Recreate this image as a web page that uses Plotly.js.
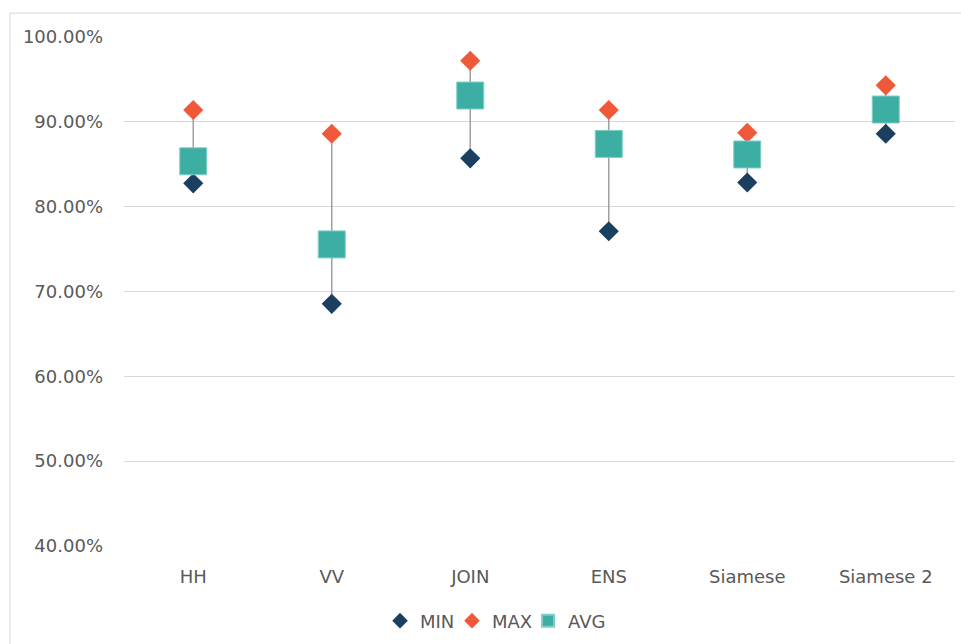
<!DOCTYPE html>
<html>
<head>
<meta charset="utf-8">
<script src="https://cdn.plot.ly/plotly-3.0.1.min.js"></script>
<style>html,body{margin:0;padding:0;background:#fff;}#chart{width:961px;height:644px;}</style>
</head>
<body>
<div id="chart"></div>
<script>
const categories = ["HH", "VV", "JOIN", "ENS", "Siamese", "Siamese 2"];
const minValues = [0.8275, 0.6855, 0.8570, 0.7710, 0.8285, 0.8860];
const maxValues = [0.9140, 0.8860, 0.9720, 0.9140, 0.8870, 0.9430];
const avgValues = [0.8535, 0.7555, 0.9310, 0.8740, 0.8615, 0.9145];
const tickValues = [0.4, 0.5, 0.6, 0.7, 0.8, 0.9, 1.0];

const lineX = [], lineY = [];
categories.forEach((c, i) => { lineX.push(c, c, null); lineY.push(minValues[i], maxValues[i], null); });

const font = {family: "DejaVu Sans, sans-serif", size: 18, color: "#595959"};

const traces = [
  {x: lineX, y: lineY, type: "scatter", mode: "lines", line: {color: "#a0a0a0", width: 1.5}, showlegend: false, hoverinfo: "skip"},
  {x: categories, y: minValues, name: "MIN", type: "scatter", mode: "markers", legend: "legend",
   marker: {symbol: "diamond", size: 15.5, color: "#1B3F60", line: {width: 0}}},
  {x: categories, y: maxValues, name: "MAX", type: "scatter", mode: "markers", legend: "legend2",
   marker: {symbol: "diamond", size: 15.5, color: "#EF5839", line: {width: 0}}},
  {x: categories, y: avgValues, name: "AVG", type: "scatter", mode: "markers", legend: "legend3",
   marker: {symbol: "square", size: 27, color: "#3DAEA4", line: {width: 1, color: "#7fcfc6"}}}
];

function leg(x) {
  return {orientation: "h", x: x, xanchor: "left", y: -0.145, yanchor: "middle",
          font: font, itemsizing: "constant", itemwidth: 30, bgcolor: "rgba(0,0,0,0)"};
}

const layout = {
  width: 961, height: 644,
  margin: {l: 124, r: 6, t: 37, b: 97},
  paper_bgcolor: "#fff", plot_bgcolor: "#fff",
  font: font,
  showlegend: true,
  legend: leg(0.3081),
  legend2: leg(0.3947),
  legend3: leg(0.4862),
  xaxis: {type: "category", showgrid: false, zeroline: false, showline: false, ticks: "",
          tickfont: font, ticklabelstandoff: 18, range: [-0.5, 5.5]},
  yaxis: {range: [0.4, 1.0], tickvals: tickValues, tickformat: ".2%", showgrid: true,
          gridcolor: "#d9d9d9", gridwidth: 1, zeroline: false, showline: false, ticks: "",
          tickfont: font, ticklabelstandoff: 20},
  shapes: [
    {type: "line", xref: "paper", yref: "paper", x0: -0.1372, x1: -0.1372, y0: -0.2, y1: 1.047,
     line: {color: "#d9d9d9", width: 1}},
    {type: "line", xref: "paper", yref: "paper", x0: -0.1372, x1: 1.01, y0: 1.047, y1: 1.047,
     line: {color: "#d9d9d9", width: 1}}
  ]
};

Plotly.newPlot("chart", traces, layout, {displayModeBar: false, staticPlot: true});
</script>
</body>
</html>
